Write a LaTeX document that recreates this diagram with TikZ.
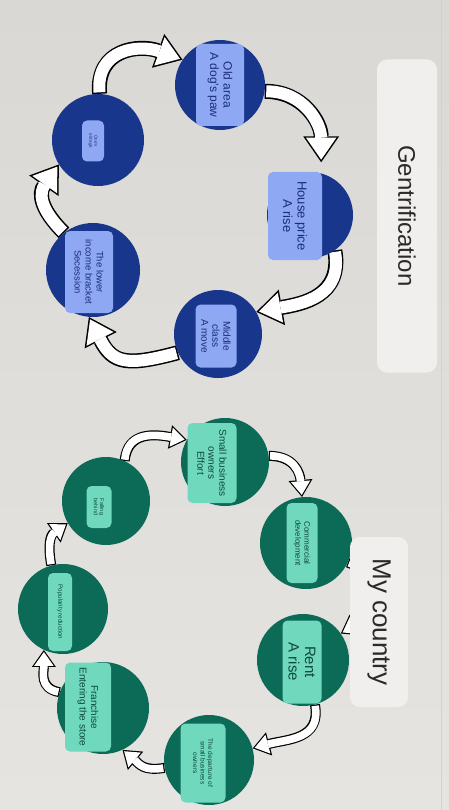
\documentclass[tikz,border=0pt]{standalone}
\usepackage{fontspec}
\setmainfont{Liberation Sans}
\usetikzlibrary{arrows.meta}
\definecolor{papertop}{HTML}{DAD8D4}
\definecolor{paperbot}{HTML}{E6E4E0}
\definecolor{bluecirc}{HTML}{18378C}
\definecolor{bluelight}{HTML}{8FA8F4}
\definecolor{bluetext}{HTML}{1B2E78}
\definecolor{greencirc}{HTML}{0C6B57}
\definecolor{greenlight}{HTML}{6FD8BD}
\definecolor{greentext}{HTML}{0E4A3C}
\definecolor{titlefill}{HTML}{F0EFED}
\definecolor{titletext}{HTML}{2A2A2A}
\pgfdeclarelayer{paper}
\pgfdeclarelayer{arrows}
\pgfsetlayers{paper,arrows,main}
\newcommand{\blockarrow}[2]{\draw[#1arrowout] #2; \draw[#1arrowin] #2;}
\tikzset{
  bluedisc/.style={circle, fill=bluecirc, inner sep=0pt, minimum size=#1},
  greendisc/.style={circle, fill=greencirc, inner sep=0pt, minimum size=#1},
  bluebox/.style n args={2}{rotate=-90, fill=bluelight, rounded corners=5pt, align=center,
    text=bluetext, inner sep=1pt, minimum width=#1, minimum height=#2},
  greenbox/.style n args={2}{rotate=-90, fill=greenlight, rounded corners=5pt, align=center,
    text=greentext, inner sep=1pt, minimum width=#1, minimum height=#2},
  titlebox/.style n args={2}{rotate=-90, fill=titlefill, rounded corners=10pt, align=center,
    text=titletext, inner sep=1pt, minimum width=#1, minimum height=#2},
  bluearrowout/.style={line width=15pt, color=black,
    -{Triangle[length=26pt,width=36pt,line width=0pt]}},
  bluearrowin/.style={line width=12pt, color=white, shorten >=2.64pt, shorten <=1.5pt,
    -{Triangle[length=21.9pt,width=30.3pt,line width=0pt]}},
  greenarrowout/.style={line width=10pt, color=black,
    -{Triangle[length=17pt,width=24pt,line width=0pt]}},
  greenarrowin/.style={line width=7.6pt, color=white, shorten >=2.08pt, shorten <=1.2pt,
    -{Triangle[length=13.7pt,width=19.4pt,line width=0pt]}},
}
\begin{document}
\begin{tikzpicture}[x=1pt,y=1pt]
  \useasboundingbox (0,0) rectangle (449,-810);
  \begin{pgfonlayer}{paper}
    \shade[top color=papertop, bottom color=paperbot] (0,0) rectangle (449,-810);
    \draw[black!18, line width=0.8pt] (441,0) -- (441,-810);
  \end{pgfonlayer}

  % Gentrification cycle
  \node[bluedisc=90pt] (oldarea) at (220,-85) {};
  \node[bluedisc=92pt] (oldage) at (98,-140) {};
  \node[bluedisc=86pt] (housep) at (310,-215) {};
  \node[bluedisc=94pt] (lowinc) at (93,-270) {};
  \node[bluedisc=88pt] (middle) at (218,-334) {};

  \node[bluebox={82pt}{48pt}, font=\fontsize{12}{13.5}\selectfont] (oldareabox) at (220,-85) {Old area\\A dog's paw};
  \node[bluebox={41pt}{22pt}, font=\fontsize{4.5}{5.2}\selectfont] (oldagebox) at (93,-141) {One's\\old age};
  \node[bluebox={88pt}{54pt}, font=\fontsize{13}{14.5}\selectfont] (housepbox) at (295,-216) {House price\\A rise};
  \node[bluebox={63pt}{41pt}, font=\fontsize{10}{11}\selectfont] (middlebox) at (216,-336) {Middle\\class\\A move};
  \node[bluebox={82pt}{48pt}, font=\fontsize{9.5}{11}\selectfont] (lowincbox) at (89,-272) {The lower\\income bracket\\Secession};

  % My country cycle
  \node[greendisc=88pt] (smallbiz) at (225,-462) {};
  \node[greendisc=88pt] (falling) at (106,-501) {};
  \node[greendisc=92pt] (commerc) at (306,-543) {};
  \node[greendisc=90pt] (popular) at (63,-609) {};
  \node[greendisc=92pt] (rent) at (303,-660) {};
  \node[greendisc=92pt] (franch) at (103,-708) {};
  \node[greendisc=90pt] (depart) at (209,-760) {};

  \node[greenbox={80pt}{49pt}, font=\fontsize{10}{11}\selectfont] (smallbizbox) at (212,-463) {Small business\\owners\\Effort};
  \node[greenbox={80pt}{31pt}, font=\fontsize{8}{9}\selectfont] (commercbox) at (302,-543) {Commercial\\development};
  \node[greenbox={42pt}{25pt}, font=\fontsize{5.5}{6.3}\selectfont] (fallingbox) at (99,-507) {Falling\\behind};
  \node[greenbox={83pt}{39pt}, font=\fontsize{15}{16.5}\selectfont] (rentbox) at (302,-662) {Rent\\A rise};
  \node[greenbox={78pt}{24pt}, font=\fontsize{6.2}{7}\selectfont] (popularbox) at (60,-612) {Popularity reduction};
  \node[greenbox={89pt}{46pt}, font=\fontsize{10}{11.5}\selectfont] (franchbox) at (88,-707) {Franchise\\Entering the store};
  \node[greenbox={79pt}{45pt}, font=\fontsize{6.5}{7.5}\selectfont] (departbox) at (203,-763) {The departure of\\small business\\owners};

  \begin{pgfonlayer}{arrows}
    \blockarrow{blue}{(oldage.88) to[out=95,in=160,looseness=1.3] (oldarea.146)}
    \blockarrow{blue}{(oldarea.-8) to[out=0,in=90,looseness=1.1] ([yshift=11pt]housep.75)}
    \blockarrow{blue}{(housep.-55) to[out=-80,in=10,looseness=1.2] (middle.30)}
    \blockarrow{blue}{(middle.205) to[out=195,in=-63,looseness=1.4] (lowinc.-95)}
    \blockarrow{blue}{(lowinc.128) to[out=135,in=235,looseness=1.3] (oldage.212)}

    \blockarrow{green}{(falling.65) to[out=85,in=170,looseness=1.2] (smallbiz.150)}
    \blockarrow{green}{(smallbiz.8) to[out=0,in=95,looseness=1.2] (commerc.95)}
    \blockarrow{green}{(commerc.-25) to[out=-20,in=30,looseness=1.5] (rent.35)}
    \blockarrow{green}{(rent.-75) to[out=-80,in=15,looseness=1.2] (depart.15)}
    \blockarrow{green}{(depart.190) to[out=190,in=-40,looseness=1.2] (franch.-65)}
    \blockarrow{green}{(franch.160) to[out=170,in=-90,looseness=1.2] (popular.-115)}
    \blockarrow{green}{(popular.105) to[out=100,in=215,looseness=1.2] (falling.210)}
  \end{pgfonlayer}

  % titles
  \node[titlebox={313pt}{60pt}, font=\fontsize{24}{28}\selectfont] (gentbox) at (407,-216) {Gentrification};
  \node[titlebox={170pt}{58pt}, font=\fontsize{26}{30}\selectfont] (mycbox) at (379,-622) {My country};
\end{tikzpicture}
\end{document}
